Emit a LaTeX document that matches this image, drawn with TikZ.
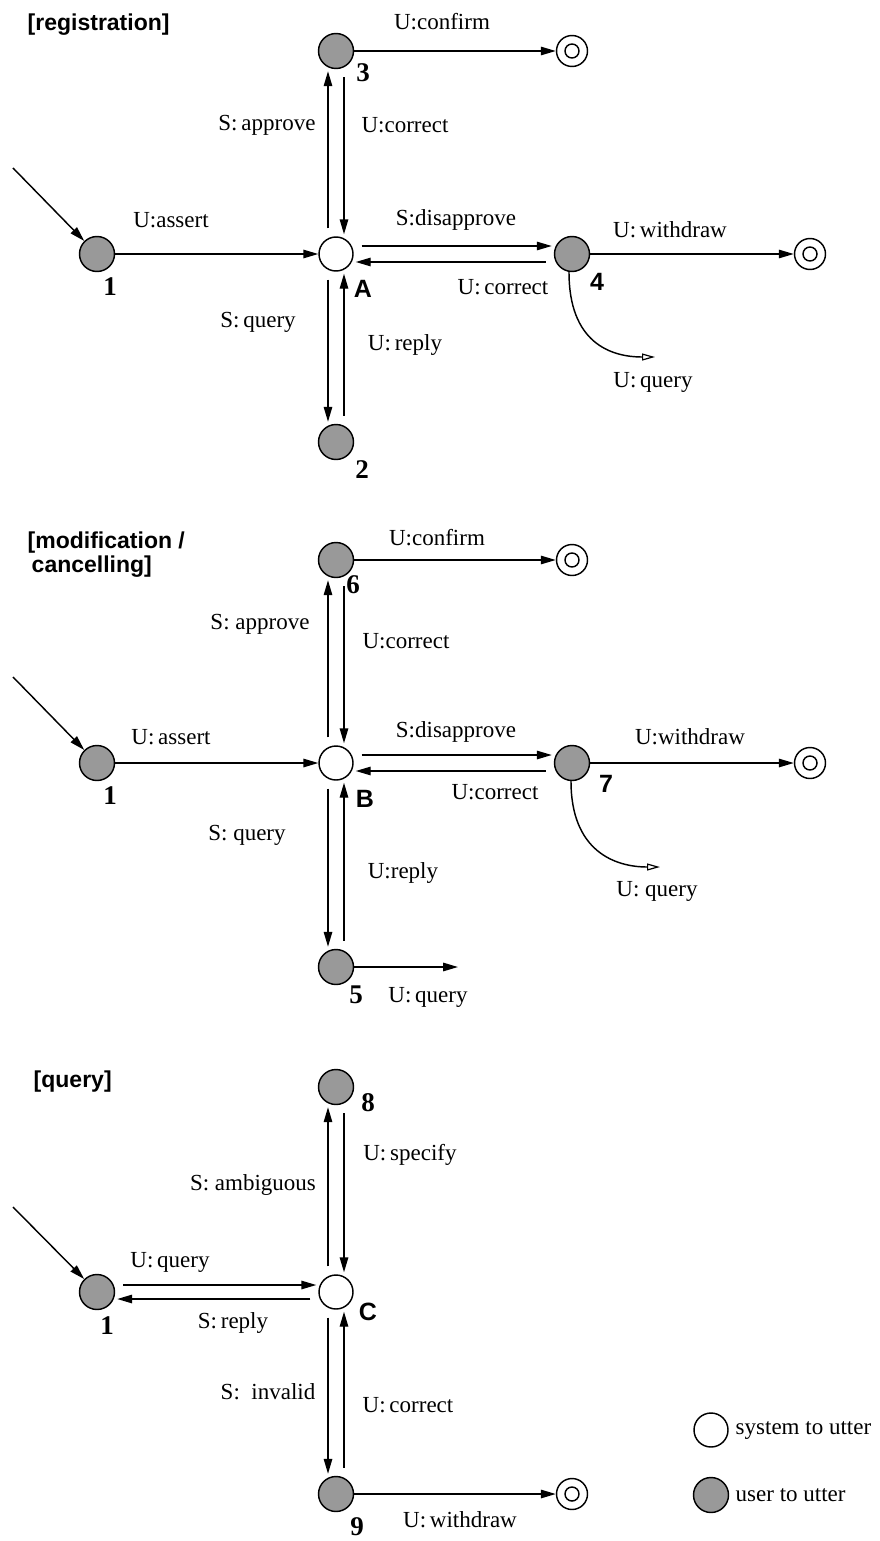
\documentclass[tikz,border=0pt]{standalone}
\usepackage{fontspec}
\setmainfont{Liberation Serif}
\setsansfont{Liberation Sans}
\usetikzlibrary{arrows.meta,calc}
\definecolor{usrgray}{gray}{0.6}

\begin{document}
\begin{tikzpicture}[x=1pt,y=-1pt,line width=1.45pt,
  usr/.style={circle,draw,fill=usrgray,minimum size=35pt,inner sep=0pt},
  sys/.style={circle,draw,fill=white,minimum size=34pt,inner sep=0pt},
  fin/.style={circle,draw,fill=white,minimum size=31pt,inner sep=0pt,
    path picture={\draw[line width=1.45pt] (path picture bounding box.center) circle[radius=7pt];}},
  arr/.style={-{Triangle[length=15pt,width=8.5pt]}},
  oarr/.style={-{Triangle[open,length=13pt,width=7pt,line width=1.2pt]}},
  pair/.style={shorten <=8pt,shorten >=2pt},
  lbl/.style={font=\fontsize{23}{25}\selectfont,inner sep=0pt},
  num/.style={font=\fontsize{27}{29}\selectfont\bfseries,inner sep=0pt},
  snum/.style={font=\fontsize{25}{27}\selectfont\sffamily\bfseries,inner sep=0pt},
  ttl/.style={font=\fontsize{23}{24}\selectfont\sffamily\bfseries,anchor=west,align=left,inner sep=0pt}]

\fill[white] (0,0) rectangle (880,1541);
\useasboundingbox (0,0) rectangle (880,1541);

% ---------------- registration ----------------
\node[ttl] (t1) at (27,25) {[registration]};
\node[usr] (a1) at (97,254) {};
\node[sys] (A) at (336,254) {};
\node[usr] (s3) at (336,51) {};
\node[fin] (f3) at (572,51) {};
\node[usr] (s2) at (336,442) {};
\node[usr] (s4) at (572,254) {};
\node[fin] (f4) at (810,254) {};
\coordinate (i1) at (13,168);
\coordinate (q4) at (655,357);

\draw[arr] (i1) -- (a1);
\draw[arr] (a1) -- (A);
\draw[arr] (s3) -- (f3);
\draw[arr] (s4) -- (f4);
\draw[arr,pair] ([xshift=-8pt]A.north) -- ([xshift=-8pt]s3.south);
\draw[arr,pair] ([xshift=8pt]s3.south) -- ([xshift=8pt]A.north);
\draw[arr,pair] ([xshift=-8pt]A.south) -- ([xshift=-8pt]s2.north);
\draw[arr,pair] ([xshift=8pt]s2.north) -- ([xshift=8pt]A.south);
\draw[arr,pair] ([yshift=8pt]A.east) -- ([yshift=8pt]s4.west);
\draw[arr,pair] ([yshift=-8pt]s4.west) -- ([yshift=-8pt]A.east);
\draw[oarr] ([xshift=-3pt]s4.south) .. controls +(0,70) and +(-45,0) .. (q4);

\node[lbl] at (442,22) {U:confirm};
\node[num] at (363,73) {3};
\node[lbl] at (267,125) {S:\,approve};
\node[lbl] at (405,125) {U:correct};
\node[lbl] at (171,220) {U:assert};
\node[num] at (110,287) {1};
\node[snum] at (363,289) {A};
\node[lbl] at (456,220) {S:disapprove};
\node[lbl] at (503,287) {U:\,correct};
\node[lbl] at (670,230) {U:\,withdraw};
\node[snum] at (597,282) {4};
\node[lbl] at (258,322) {S:\,query};
\node[lbl] at (405,345) {U:\,reply};
\node[lbl] at (653,382) {U:\,query};
\node[num] at (362,470) {2};

% ---------------- modification / cancelling ----------------
\node[ttl] (t2) at (27,555) {[modification /\\\hspace{4pt}cancelling]};
\node[usr] (b1) at (97,763) {};
\node[sys] (B) at (336,763) {};
\node[usr] (s6) at (336,560) {};
\node[fin] (f6) at (572,560) {};
\node[usr] (s5) at (336,967) {};
\node[usr] (s7) at (572,763) {};
\node[fin] (f7) at (810,763) {};
\coordinate (i2) at (13,677);
\coordinate (q7) at (660,867);
\coordinate (e5) at (458,967);

\draw[arr] (i2) -- (b1);
\draw[arr] (b1) -- (B);
\draw[arr] (s6) -- (f6);
\draw[arr] (s7) -- (f7);
\draw[arr] (s5) -- (e5);
\draw[arr,pair] ([xshift=-8pt]B.north) -- ([xshift=-8pt]s6.south);
\draw[arr,pair] ([xshift=8pt]s6.south) -- ([xshift=8pt]B.north);
\draw[arr,pair] ([xshift=-8pt]B.south) -- ([xshift=-8pt]s5.north);
\draw[arr,pair] ([xshift=8pt]s5.north) -- ([xshift=8pt]B.south);
\draw[arr,pair] ([yshift=8pt]B.east) -- ([yshift=8pt]s7.west);
\draw[arr,pair] ([yshift=-8pt]s7.west) -- ([yshift=-8pt]B.east);
\draw[oarr] ([xshift=-1pt]s7.south) .. controls +(0,70) and +(-45,0) .. (q7);

\node[lbl] at (437,538) {U:confirm};
\node[num] at (353,585) {6};
\node[lbl] at (260,624) {S: approve};
\node[lbl] at (406,641) {U:correct};
\node[lbl] at (171,737) {U:\,assert};
\node[num] at (110,796) {1};
\node[snum] at (365,799) {B};
\node[lbl] at (456,732) {S:disapprove};
\node[lbl] at (495,792) {U:correct};
\node[lbl] at (690,737) {U:withdraw};
\node[snum] at (606,784) {7};
\node[lbl] at (247,835) {S: query};
\node[lbl] at (403,873) {U:reply};
\node[lbl] at (657,891) {U: query};
\node[num] at (356,995) {5};
\node[lbl] at (428,997) {U:\,query};

% ---------------- query ----------------
\node[ttl] (t3) at (33,1082) {[query]};
\node[usr] (c1) at (97,1292) {};
\node[sys] (C) at (336,1292) {};
\node[usr] (s8) at (336,1087) {};
\node[usr] (s9) at (336,1494) {};
\node[fin] (f9) at (572,1494) {};
\coordinate (i3) at (13,1207);

\draw[arr] (i3) -- (c1);
\draw[arr] (s9) -- (f9);
\draw[arr,pair] ([yshift=7pt]c1.east) -- ([yshift=7pt]C.west);
\draw[arr,pair] ([yshift=-7pt]C.west) -- ([yshift=-7pt]c1.east);
\draw[arr,pair] ([xshift=-8pt]C.north) -- ([xshift=-8pt]s8.south);
\draw[arr,pair] ([xshift=8pt]s8.south) -- ([xshift=8pt]C.north);
\draw[arr,pair] ([xshift=-8pt]C.south) -- ([xshift=-8pt]s9.north);
\draw[arr,pair] ([xshift=8pt]s9.north) -- ([xshift=8pt]C.south);

\node[num] at (368,1103) {8};
\node[lbl] at (410,1155) {U:\,specify};
\node[lbl] at (253,1185) {S: ambiguous};
\node[lbl] at (170,1262) {U:\,query};
\node[num] at (107,1326) {1};
\node[snum] at (368,1312) {C};
\node[lbl] at (233,1323) {S:\,reply};
\node[lbl] at (268,1392) {S:~~invalid};
\node[lbl] at (408,1405) {U:\,correct};
\node[num] at (357,1527) {9};
\node[lbl] at (460,1520) {U:\,withdraw};

% ---------------- legend ----------------
\node[sys] (ls) at (711,1430) {};
\node[usr] (lu) at (711,1495) {};
\node[lbl,anchor=west] (lst) at (735,1430) {system to utter};
\node[lbl,anchor=west] (lut) at (735,1495) {user to utter};
\end{tikzpicture}
\end{document}
